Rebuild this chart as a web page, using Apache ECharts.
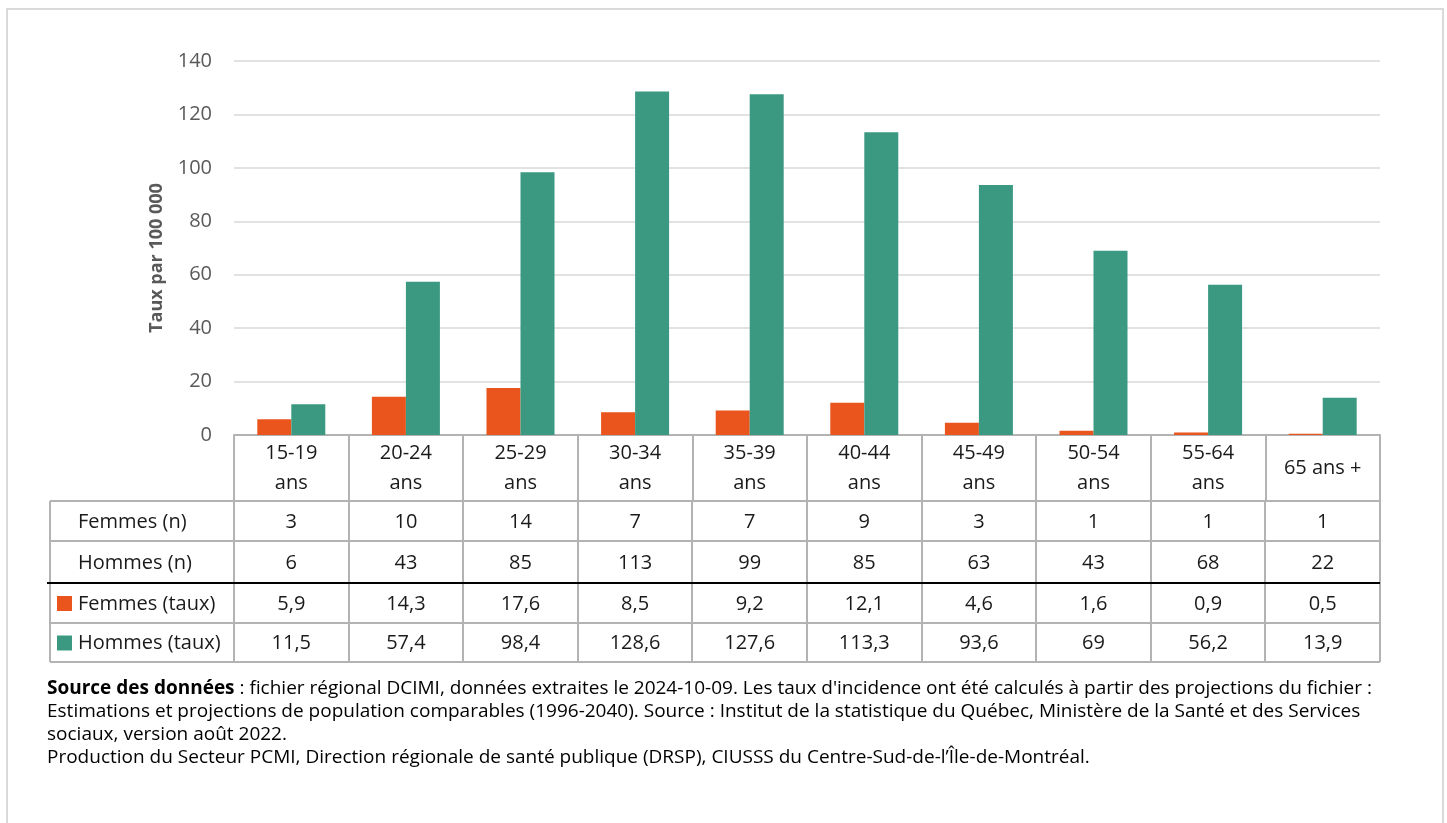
<!DOCTYPE html>
<html>
<head>
<meta charset="utf-8">
<script src="https://cdn.jsdelivr.net/npm/echarts@6/dist/echarts.min.js"></script>
<style>
  html, body { margin: 0; padding: 0; background: #fff; }
  #container { width: 1447px; height: 823px; }
</style>
</head>
<body>
<div id="container"></div>
<script>
// données
var groupes      = ['15-19\nans', '20-24\nans', '25-29\nans', '30-34\nans', '35-39\nans',
                    '40-44\nans', '45-49\nans', '50-54\nans', '55-64\nans', '65 ans +'];
var femmesN      = [3, 10, 14, 7, 7, 9, 3, 1, 1, 1];
var hommesN      = [6, 43, 85, 113, 99, 85, 63, 43, 68, 22];
var femmesTaux   = [5.9, 14.3, 17.6, 8.5, 9.2, 12.1, 4.6, 1.6, 0.9, 0.5];
var hommesTaux   = [11.5, 57.4, 98.4, 128.6, 127.6, 113.3, 93.6, 69, 56.2, 13.9];
var yTicks       = [0, 20, 40, 60, 80, 100, 120, 140];

var orange = '#E9551C';
var vert   = '#3B9982';
var gris   = '#b3b3b3';
var police = '"Open Sans", sans-serif';

var dom   = document.getElementById('container');
var chart = echarts.init(dom);

var gLeft = 234, gRight = 1380, gTop = 61, gBottom = 435;

option = {
    animation: false,
    textStyle: { fontFamily: police },
    grid: {
        left: gLeft,
        right: 1447 - gRight,
        top: gTop,
        bottom: 823 - gBottom
    },
    xAxis: {
        type: 'category',
        data: groupes,
        axisLine: { lineStyle: { color: gris, width: 2 } },
        axisTick: { show: true, interval: 0, length: 66, lineStyle: { color: gris, width: 2 } },
        axisLabel: {
            interval: 0,
            margin: 33,
            verticalAlign: 'middle',
            lineHeight: 30,
            fontSize: 20,
            color: '#1a1a1a'
        }
    },
    yAxis: {
        type: 'value',
        min: yTicks[0],
        max: yTicks[yTicks.length - 1],
        interval: 20,
        name: 'Taux par 100 000',
        nameLocation: 'middle',
        nameGap: 68,
        nameTextStyle: { fontSize: 18, fontWeight: 'bold', color: '#595959', padding: [0, 20, 0, 0] },
        axisLine: { show: false },
        axisTick: { show: false },
        axisLabel: { fontSize: 20, color: '#595959', margin: 22 },
        splitLine: { lineStyle: { color: '#d9d9d9', width: 1.5 } }
    },
    series: [
        {
            name: 'Femmes (taux)',
            type: 'bar',
            data: femmesTaux,
            barWidth: 34,
            barGap: '0%',
            itemStyle: { color: orange }
        },
        {
            name: 'Hommes (taux)',
            type: 'bar',
            data: hommesTaux,
            barWidth: 34,
            barGap: '0%',
            itemStyle: { color: vert }
        }
    ]
};
chart.setOption(option, true);

// ------------------------------------------------------

// tableau de données sous le graphique
var rowsY  = [501, 541, 583, 623, 662];
var tLeft  = 50;
var catW   = (gRight - gLeft) / groupes.length;
var rows   = [
    { label: 'Femmes (n)',    vals: femmesN,    fmt: null },
    { label: 'Hommes (n)',    vals: hommesN,    fmt: null },
    { label: 'Femmes (taux)', vals: femmesTaux, fmt: orange },
    { label: 'Hommes (taux)', vals: hommesTaux, fmt: vert }
];
var elems = [];

function ligne(x1, y1, x2, y2, color, w) {
    elems.push({
        type: 'line',
        shape: { x1: x1, y1: y1, x2: x2, y2: y2 },
        style: { stroke: color, lineWidth: w },
        silent: true
    });
}

// lignes horizontales
for (var r = 0; r < rowsY.length; r++) {
    if (r === 2) continue;
    ligne(tLeft, rowsY[r], gRight, rowsY[r], gris, 2);
}
// lignes verticales
ligne(tLeft, rowsY[0], tLeft, rowsY[4], gris, 2);
for (var i = 0; i <= groupes.length; i++) {
    var x = Math.round(gLeft + catW * i);
    ligne(x, rowsY[0], x, rowsY[4], gris, 2);
}
// séparateur noir
ligne(47, rowsY[2], gRight, rowsY[2], '#000', 2);

for (var r = 0; r < rows.length; r++) {
    var cy = (rowsY[r] + rowsY[r + 1]) / 2 + 1;
    if (rows[r].fmt) {
        elems.push({
            type: 'rect',
            shape: { x: 57, y: cy - 8, width: 15, height: 15 },
            style: { fill: rows[r].fmt },
            silent: true
        });
    }
    elems.push({
        type: 'text',
        x: 78, y: cy,
        style: { text: rows[r].label, font: '20px ' + police, fill: '#1a1a1a',
                 align: 'left', verticalAlign: 'middle' },
        silent: true
    });
    for (var i = 0; i < groupes.length; i++) {
        var px = chart.convertToPixel({ xAxisIndex: 0 }, i);
        elems.push({
            type: 'text',
            x: px, y: cy,
            style: { text: String(rows[r].vals[i]).replace('.', ','), font: '20px ' + police,
                     fill: '#1a1a1a', align: 'center', verticalAlign: 'middle' },
            silent: true
        });
    }
}

// cadre
elems.push({
    type: 'rect',
    shape: { x: 7, y: 9, width: 1436, height: 830 },
    style: { fill: 'none', stroke: '#d9d9d9', lineWidth: 2 },
    silent: true
});

// note de source
var noteLignes = [
    '{b|Source des données} : fichier régional DCIMI, données extraites le 2024-10-09. Les taux d\'incidence ont été calculés à partir des projections du fichier :',
    'Estimations et projections de population comparables (1996-2040). Source : Institut de la statistique du Québec, Ministère de la Santé et des Services',
    'sociaux, version août 2022.',
    'Production du Secteur PCMI, Direction régionale de santé publique (DRSP), CIUSSS du Centre-Sud-de-l\u2019Île-de-Montréal.'
];
elems.push({
    type: 'text',
    x: 47, y: 677,
    style: {
        text: noteLignes.join('\n'),
        font: '19px ' + police,
        fill: '#000',
        lineHeight: 23,
        rich: { b: { fontWeight: 'bold', fontSize: 19, fontFamily: police, fill: '#000', lineHeight: 23 } }
    },
    silent: true
});

chart.setOption({ graphic: { elements: elems } });
</script>
</body>
</html>
